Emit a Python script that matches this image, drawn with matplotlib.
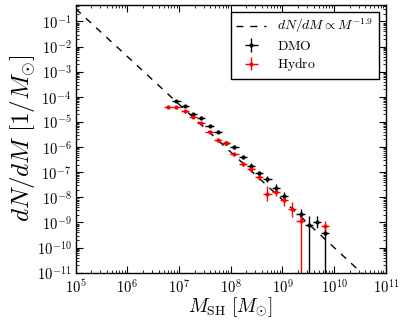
import numpy as np
import matplotlib
matplotlib.use("Agg")
import matplotlib.pyplot as plt
from matplotlib.ticker import LogLocator, FuncFormatter, NullFormatter

plt.rcParams['mathtext.fontset'] = 'cm'
plt.rcParams['font.family'] = ['DejaVu Serif']

# ---- data ----
# DMO bins: log10 mass centres and log10 dN/dM
dmo_logM = [6.95, 7.11, 7.27, 7.43, 7.59, 7.75, 7.91, 8.07, 8.23, 8.39,
            8.55, 8.71, 8.87, 9.03, 9.35, 9.51, 9.67, 9.83]
dmo_logY = [-4.17, -4.37, -4.69, -4.83, -5.15, -5.39, -5.83, -5.99, -6.38, -6.75,
            -7.05, -7.29, -7.63, -7.93, -8.68, -9.11, -8.98, -9.43]
dmo_hi_dex = [0.05, 0.05, 0.05, 0.05, 0.06, 0.06, 0.07, 0.07, 0.08, 0.10,
              0.10, 0.12, 0.14, 0.16, 0.23, 0.36, 0.24, 0.20]
dmo_lo_dex = [0.05, 0.05, 0.05, 0.05, 0.06, 0.06, 0.07, 0.07, 0.08, 0.10,
              0.10, 0.12, 0.14, 0.16, 0.23, np.inf, 0.24, np.inf]

hyd_logM = [6.79, 6.95, 7.11, 7.27, 7.43, 7.59, 7.75, 7.91, 8.07, 8.23,
            8.39, 8.55, 8.71, 8.87, 9.03, 9.19, 9.35, 9.83]
hyd_logY = [-4.39, -4.42, -4.58, -4.79, -5.05, -5.39, -5.72, -5.85, -6.29, -6.67,
            -6.89, -7.18, -7.85, -7.80, -8.12, -8.47, -8.95, -9.14]
hyd_hi_dex = [0.05, 0.05, 0.05, 0.05, 0.06, 0.06, 0.07, 0.07, 0.08, 0.09,
              0.10, 0.12, 0.28, 0.16, 0.23, 0.30, 0.24, 0.21]
hyd_lo_dex = [0.05, 0.05, 0.05, 0.05, 0.06, 0.06, 0.07, 0.07, 0.08, 0.09,
              0.10, 0.12, 0.28, 0.16, 0.23, 0.30, np.inf, 0.21]

bin_half_dex = 0.08
slope = -1.9
log_norm = 9.0
line_logM = [5.0, 11.0]


def prep(logM, logY, hi, lo):
    M = 10.0 ** np.asarray(logM)
    Y = 10.0 ** np.asarray(logY)
    xerr = [M * (1 - 10 ** -bin_half_dex), M * (10 ** bin_half_dex - 1)]
    yerr = [Y * (1 - 10.0 ** -np.asarray(lo)), Y * (10.0 ** np.asarray(hi) - 1)]
    return M, Y, xerr, yerr


fig = plt.figure(figsize=(4.07, 3.26), dpi=100)
ax = fig.add_axes([0.186, 0.1635, 0.762, 0.822])
ax.set_xscale('log')
ax.set_yscale('log', nonpositive='clip')

lm = np.linspace(line_logM[0], line_logM[1], 50)
ax.plot(10 ** lm, 10 ** (log_norm + slope * lm), color='k', ls='--',
        dashes=(5, 5), lw=1.0, label=r'$dN/dM \propto M^{-1.9}$')

M, Y, xe, ye = prep(dmo_logM, dmo_logY, dmo_hi_dex, dmo_lo_dex)
ax.errorbar(M, Y, xerr=xe, yerr=ye, fmt='o', color='k', ms=3, mew=0,
            elinewidth=1.0, capsize=3, capthick=1.0, label=r'$\mathrm{DMO}$')
M, Y, xe, ye = prep(hyd_logM, hyd_logY, hyd_hi_dex, hyd_lo_dex)
ax.errorbar(M, Y, xerr=xe, yerr=ye, fmt='o', color='red', ms=3, mew=0,
            elinewidth=1.0, capsize=3, capthick=1.0, label=r'$\mathrm{Hydro}$')

ax.set_xlim(1e5, 1e11)
ax.set_ylim(1e-11, 0.46)

fmt = FuncFormatter(lambda v, p: r'$10^{%d}$' % int(round(np.log10(v))))
ax.xaxis.set_major_locator(LogLocator(base=10, numticks=20))
ax.yaxis.set_major_locator(LogLocator(base=10, numticks=20))
ax.xaxis.set_major_formatter(fmt)
ax.yaxis.set_major_formatter(fmt)
ax.xaxis.set_minor_locator(LogLocator(base=10, subs=np.arange(2, 10), numticks=50))
ax.yaxis.set_minor_locator(LogLocator(base=10, subs=np.arange(2, 10), numticks=50))
ax.xaxis.set_minor_formatter(NullFormatter())
ax.yaxis.set_minor_formatter(NullFormatter())
ax.tick_params(which='both', direction='in', top=True, right=True, labelsize=10.5)
ax.tick_params(which='major', length=5, width=0.8)
ax.tick_params(which='minor', length=2.5, width=0.6)
ax.tick_params(axis='x', pad=4)
ax.tick_params(axis='y', pad=3)
for s in ax.spines.values():
    s.set_linewidth(1.0)

ax.set_xlabel(r'$M_{\mathrm{SH}}\ [M_{\odot}]$', fontsize=14, labelpad=-1)
ax.set_ylabel(r'$dN/dM\ [1/M_{\odot}]$', fontsize=18, labelpad=-1)

leg = ax.legend(loc='upper right', fontsize=9.8, fancybox=False, framealpha=1,
                edgecolor='k', handlelength=2.2, borderaxespad=0.5, numpoints=1,
                labelspacing=0.25, borderpad=0.4)
leg.get_frame().set_linewidth(1.0)

fig.savefig('out.png', dpi=100, facecolor='white')
